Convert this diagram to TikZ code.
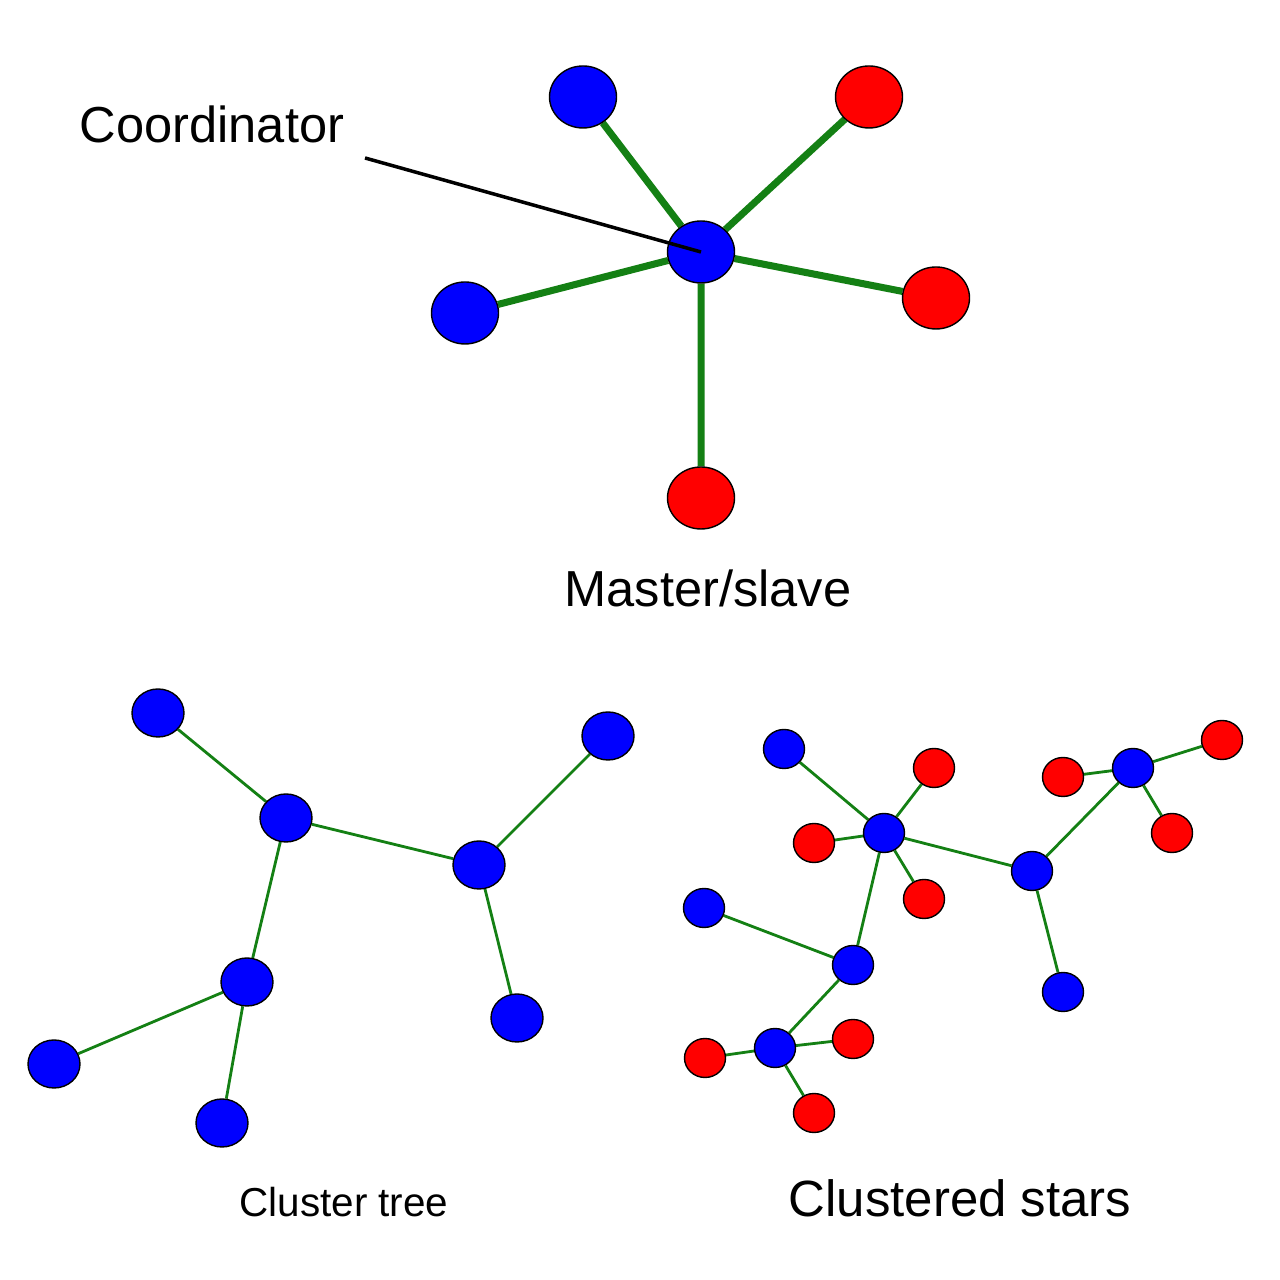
\documentclass[tikz,border=0pt]{standalone}
\usepackage{fontspec}
\setmainfont{Liberation Sans}
\usetikzlibrary{shapes.geometric,backgrounds}
\definecolor{linkgreen}{RGB}{20,128,20}
\tikzset{
    dot/.style = {ellipse, draw = black, line width = 0.4pt, inner sep = 0pt},
    bigdot/.style = {dot, minimum width = 0.67cm, minimum height = 0.62cm},
    treedot/.style = {dot, minimum width = 0.52cm, minimum height = 0.48cm},
    stardot/.style = {dot, minimum width = 0.41cm, minimum height = 0.39cm},
    bluedot/.style = {fill = blue},
    reddot/.style = {fill = red},
    caption/.style = {anchor = base, inner sep = 0pt}
}
\begin{document}
\begin{tikzpicture}
        \useasboundingbox (0,0) rectangle (12.8,12.8);
        % master/slave
        \node[bigdot, bluedot] (m0) at (7.01,10.28) {};
        \node[bigdot, bluedot] (m1) at (5.83,11.83) {};
        \node[bigdot, reddot] (m2) at (8.69,11.83) {};
        \node[bigdot, reddot] (m3) at (9.36,9.82) {};
        \node[bigdot, bluedot] (m4) at (4.65,9.67) {};
        \node[bigdot, reddot] (m5) at (7.01,7.82) {};
        \begin{scope}[on background layer]
            \draw[linkgreen, line width = 2pt] (m0) -- (m1) (m0) -- (m2) (m0) -- (m3)
                (m0) -- (m4) (m0) -- (m5);
        \end{scope}
        \node[caption, font = \fontsize{14.4}{17}\selectfont] (coordtext) at (2.12,11.37) {Coordinator};
        \coordinate (ptr) at (3.65,11.22);
        \draw[line width = 1pt] (ptr) -- (m0.center);
        \node[caption, font = \fontsize{14.4}{17}\selectfont] (mstext) at (7.08,6.73) {Master/slave};
        % cluster tree
        \begin{scope}[every node/.append style = {treedot, bluedot}]
            \node (t1) at (1.58,5.67) {};
            \node (t2) at (2.86,4.62) {};
            \node (t3) at (6.08,5.44) {};
            \node (t4) at (4.79,4.15) {};
            \node (t5) at (2.47,2.98) {};
            \node (t6) at (5.17,2.62) {};
            \node (t7) at (0.54,2.16) {};
            \node (t8) at (2.22,1.57) {};
        \end{scope}
        \begin{scope}[on background layer]
            \draw[linkgreen, line width = 0.8pt] (t1) -- (t2) (t2) -- (t4) (t4) -- (t3)
                (t4) -- (t6) (t2) -- (t5) (t5) -- (t7) (t5) -- (t8);
        \end{scope}
        \node[caption, font = \fontsize{11.5}{14}\selectfont] (cttext) at (3.44,0.63) {Cluster tree};
        % clustered stars
        \begin{scope}[every node/.append style = {stardot}]
            \node[bluedot] (s1) at (7.84,5.31) {};
            \node[reddot] (s2) at (9.34,5.12) {};
            \node[bluedot] (s3) at (8.84,4.47) {};
            \node[reddot] (s4) at (8.14,4.37) {};
            \node[reddot] (s5) at (9.24,3.81) {};
            \node[bluedot] (s6) at (10.32,4.09) {};
            \node[bluedot] (s7) at (11.33,5.12) {};
            \node[reddot] (s8) at (10.63,5.03) {};
            \node[reddot] (s9) at (12.22,5.40) {};
            \node[reddot] (s10) at (11.72,4.47) {};
            \node[bluedot] (s11) at (10.63,2.88) {};
            \node[bluedot] (s12) at (7.04,3.72) {};
            \node[bluedot] (s13) at (8.53,3.15) {};
            \node[reddot] (s14) at (8.53,2.41) {};
            \node[bluedot] (s15) at (7.75,2.32) {};
            \node[reddot] (s16) at (7.05,2.22) {};
            \node[reddot] (s17) at (8.14,1.67) {};
        \end{scope}
        \begin{scope}[on background layer]
            \draw[linkgreen, line width = 0.8pt] (s3) -- (s1) (s3) -- (s2) (s3) -- (s4)
                (s3) -- (s5) (s3) -- (s6) (s3) -- (s13) (s6) -- (s7) (s6) -- (s11)
                (s7) -- (s8) (s7) -- (s9) (s7) -- (s10) (s13) -- (s12) (s13) -- (s15)
                (s15) -- (s14) (s15) -- (s16) (s15) -- (s17);
        \end{scope}
        \node[caption, font = \fontsize{14.5}{17}\selectfont] (cstext) at (9.60,0.63) {Clustered stars};
    \end{tikzpicture}
\end{document}
